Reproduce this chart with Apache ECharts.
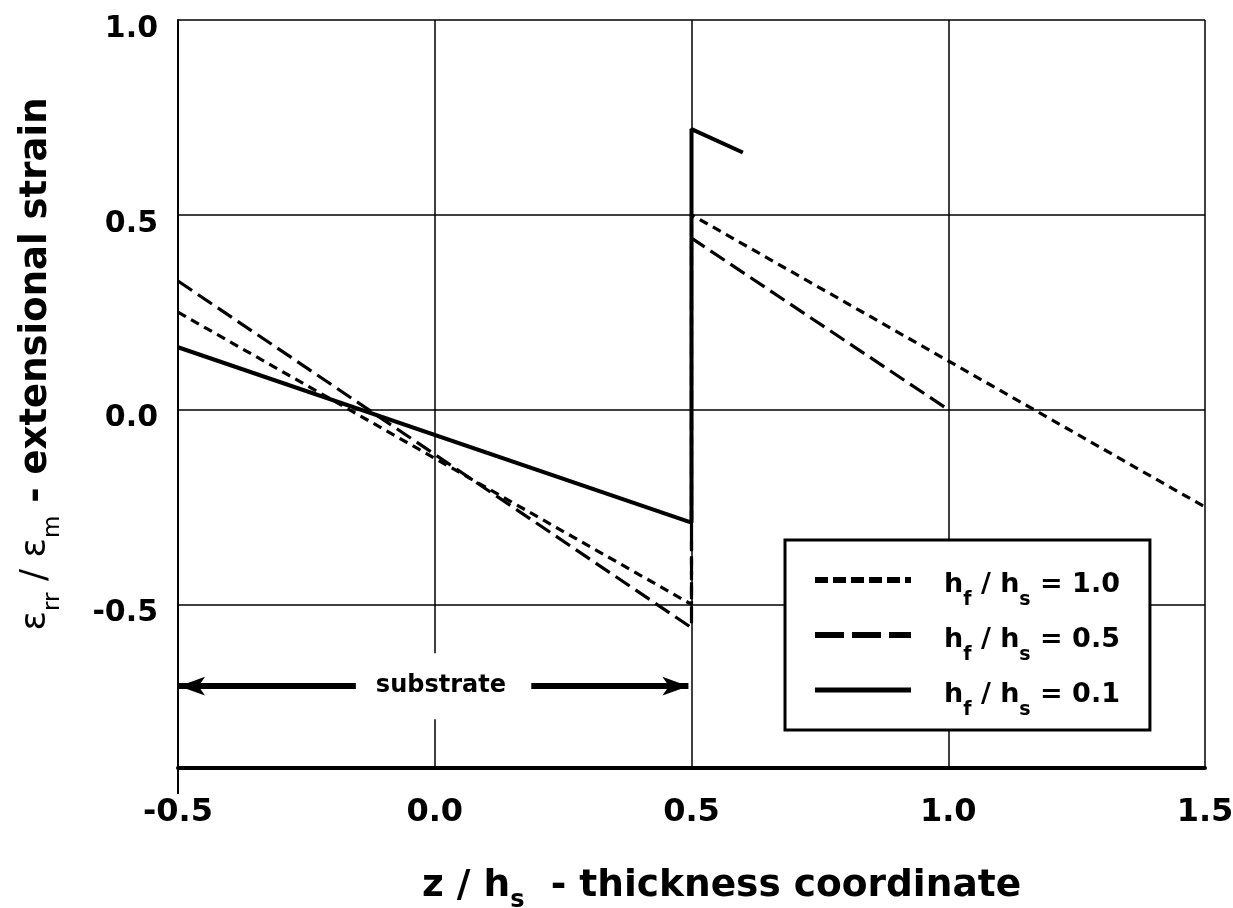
<!DOCTYPE html>
<html>
<head>
<meta charset="utf-8">
<script src="https://cdn.jsdelivr.net/npm/echarts@6/dist/echarts.min.js"></script>
<style>
html, body { margin: 0; background: #fff; }
#main { width: 1233px; height: 908px; }
</style>
</head>
<body>
<div id="main"></div>
<script>
// strain through the thickness, film on substrate
var ratioLabels = ['1.0', '0.5', '0.1'];

var z10 = [-0.5, 0.5, 0.5, 1.5];
var strain10 = [0.25, -0.5, 0.5, -0.25];

var z05 = [-0.5, 0.5, 0.5, 1.0];
var strain05 = [0.33, -0.56, 0.44, 0.0];

var z01 = [-0.5, 0.5, 0.5, 0.6];
var strain01 = [0.16, -0.29, 0.72, 0.66];

var yTicks = [-0.5, 0.0, 0.5, 1.0];
var frameTick = [-0.5];

// "substrate" arrow: left piece, right piece, label spot, height
var arrowLeft = [-0.498, -0.152];
var arrowRight = [0.188, 0.494];
var substrateZ = 0.012;
var substrateLevel = -0.71;

var FONT = 'DejaVu Sans';

function pairs(xs, ys) {
    return xs.map(function (x, i) { return [x, ys[i]]; });
}

var legendRich = {
    m: { fontFamily: FONT, fontWeight: 'bold', fontSize: 27, lineHeight: 34, padding: [8, 0, 0, 0], verticalAlign: 'top', color: '#000' },
    s: { fontFamily: FONT, fontWeight: 'bold', fontSize: 19, lineHeight: 19, padding: [28, 0, 0, 0], verticalAlign: 'top', color: '#000' }
};

var myChart = echarts.init(document.getElementById('main'));

var option = {
    backgroundColor: '#fff',
    animation: false,
    grid: { left: 178, right: 28, top: 20, bottom: 140, outerBoundsMode: 'none' },
    xAxis: [{
        type: 'value',
        min: -0.5,
        max: 1.5,
        interval: 0.5,
        axisLine: { show: true, onZero: false, lineStyle: { color: '#000', width: 4 } },
        axisTick: { show: false },
        splitLine: { show: true, lineStyle: { color: '#000', width: 1.5 } },
        axisLabel: {
            margin: 29,
            color: '#000',
            fontFamily: FONT,
            fontWeight: 'bold',
            fontSize: 32,
            formatter: function (v) { return v.toFixed(1); }
        },
        name: '{t|z / h}{s|s}{t|  - thickness coordinate}',
        nameLocation: 'middle',
        nameGap: 99,
        nameTextStyle: {
            padding: [0, 0, 0, 60],
            rich: {
                t: { fontFamily: FONT, fontWeight: 'bold', fontSize: 37.5, lineHeight: 42, verticalAlign: 'top', color: '#000' },
                s: { fontFamily: FONT, fontWeight: 'bold', fontSize: 24, lineHeight: 24, padding: [22, 0, 0, 0], verticalAlign: 'top', color: '#000' }
            }
        }
    }, {
        // only the left frame line running past the bottom axis
        type: 'value',
        position: 'bottom',
        offset: 0,
        min: -0.5,
        max: 1.5,
        interval: 0.5,
        axisLine: { show: true, onZero: false, lineStyle: { color: 'rgba(0,0,0,0)', width: 1 } },
        axisLabel: { show: false, customValues: frameTick },
        splitLine: { show: false },
        axisTick: { show: true, inside: false, customValues: frameTick, length: 26, lineStyle: { color: '#000', width: 2 } }
    }],
    yAxis: {
        type: 'value',
        min: -0.92,
        max: 1.0,
        axisLine: { show: true, onZero: false, lineStyle: { color: '#000', width: 2 } },
        axisTick: { show: false, customValues: yTicks },
        splitLine: { show: true, lineStyle: { color: '#000', width: 1.5 } },
        axisLabel: {
            customValues: yTicks,
            margin: 20,
            formatter: function (v) { return '{v|' + v.toFixed(1) + '}'; },
            rich: {
                v: { fontFamily: FONT, fontWeight: 'bold', fontSize: 30, lineHeight: 30, padding: [18, 0, 0, 0], color: '#000' }
            }
        },
        name: '{e|ε}{s|rr}{e| / ε}{s|m}{t| - extensional strain}',
        nameLocation: 'middle',
        nameRotate: 90,
        nameGap: 118,
        nameTextStyle: {
            padding: [0, 0, 0, 60],
            rich: {
                e: { fontFamily: FONT, fontSize: 36, lineHeight: 42, verticalAlign: 'top', color: '#000' },
                t: { fontFamily: FONT, fontWeight: 'bold', fontSize: 37, lineHeight: 42, verticalAlign: 'top', color: '#000' },
                s: { fontFamily: FONT, fontSize: 23, lineHeight: 23, padding: [24, 0, 0, 0], verticalAlign: 'top', color: '#000' }
            }
        }
    },
    legend: {
        orient: 'vertical',
        left: 785,
        top: 540,
        backgroundColor: '#fff',
        borderColor: '#000',
        borderWidth: 3,
        borderRadius: 0,
        padding: [23, 30, 10, 27],
        itemWidth: 96,
        itemHeight: 14,
        itemGap: 8,
        itemStyle: { opacity: 0 },
        data: [
            { name: ratioLabels[0], lineStyle: { width: 6, type: [13, 5] } },
            { name: ratioLabels[1], lineStyle: { width: 6, type: [29, 8] } },
            { name: ratioLabels[2], lineStyle: { width: 5 } }
        ],
        formatter: function (name) {
            return '{m|h}{s|f}{m| / h}{s|s}{m| = ' + name + '}';
        },
        textStyle: { padding: [0, 0, 0, 28], rich: legendRich }
    },
    series: [
        {
            name: ratioLabels[0],
            type: 'line',
            symbol: 'none',
            data: pairs(z10, strain10),
            lineStyle: { color: '#000', width: 3.2, type: [9, 6] },
            itemStyle: { color: '#000' }
        },
        {
            name: ratioLabels[1],
            type: 'line',
            symbol: 'none',
            data: pairs(z05, strain05),
            lineStyle: { color: '#000', width: 3.2, type: [17, 7] },
            itemStyle: { color: '#000' }
        },
        {
            name: ratioLabels[2],
            type: 'line',
            symbol: 'none',
            data: pairs(z01, strain01),
            lineStyle: { color: '#000', width: 4 },
            itemStyle: { color: '#000' },
            markLine: {
                silent: true,
                symbol: ['arrow', 'arrow'],
                symbolSize: [14, 26],
                lineStyle: { color: '#000', width: 6, type: 'solid' },
                label: { show: false },
                data: [
                    [
                        { coord: [arrowLeft[0], substrateLevel], symbol: 'arrow' },
                        { coord: [arrowLeft[1], substrateLevel], symbol: 'none' }
                    ],
                    [
                        { coord: [arrowRight[0], substrateLevel], symbol: 'none' },
                        { coord: [arrowRight[1], substrateLevel], symbol: 'arrow' }
                    ]
                ]
            },
            markPoint: {
                silent: true,
                symbol: 'rect',
                symbolSize: 1,
                itemStyle: { color: 'rgba(0,0,0,0)' },
                label: {
                    show: true,
                    position: 'inside',
                    formatter: 'substrate',
                    color: '#000',
                    fontFamily: FONT,
                    fontWeight: 'bold',
                    fontSize: 24,
                    backgroundColor: '#fff',
                    padding: [22, 20, 20, 20]
                },
                data: [{ coord: [substrateZ, substrateLevel] }]
            }
        }
    ]
};

myChart.setOption(option);
</script>
</body>
</html>
